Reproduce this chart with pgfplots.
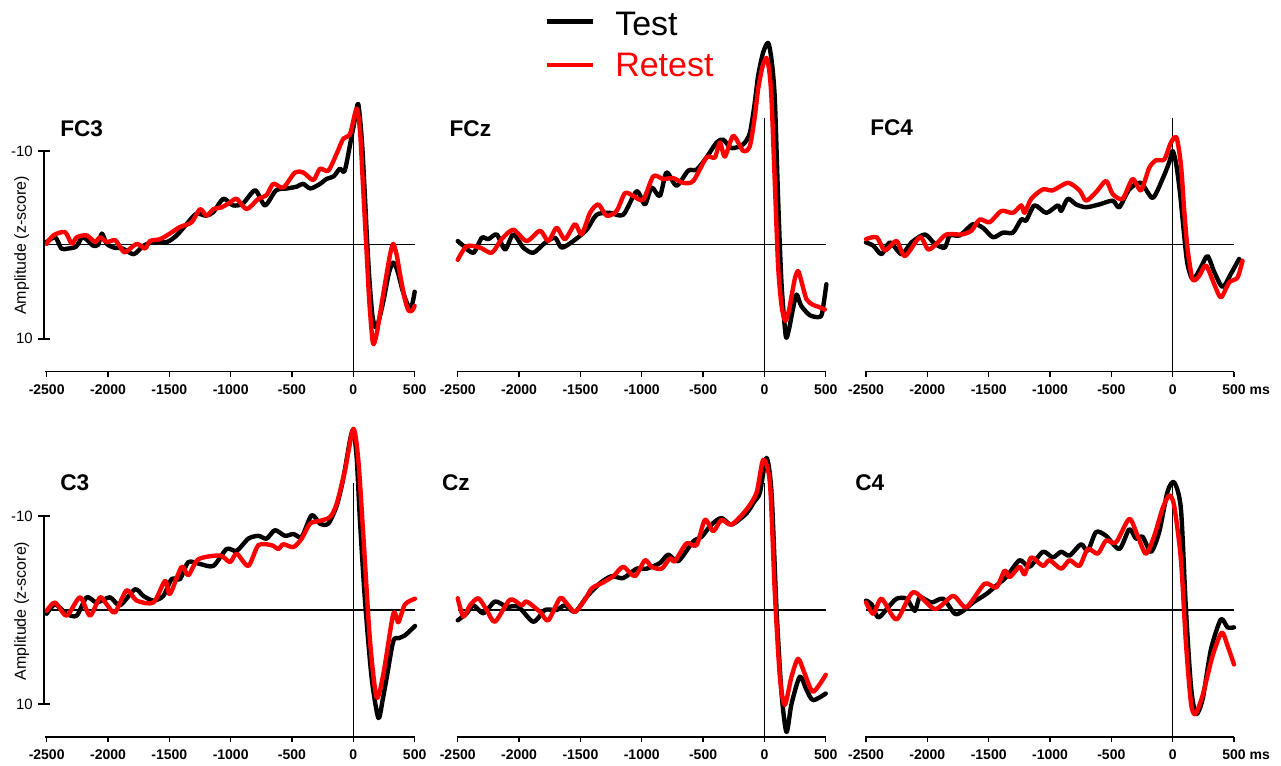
\documentclass[border=0pt]{standalone}
\usepackage{fontspec}
\setmainfont{Liberation Sans}
\usepackage{pgfplots}
\pgfplotsset{compat=1.18}
\definecolor{rtred}{RGB}{255,0,0}
\pgfplotsset{
  erp/.style={
    width=276pt, height=190.1pt, scale only axis,
    xmin=-2500, xmax=500, ymin=-13.5, ymax=13.5, y dir=reverse,
    clip=false, axis line style={draw=none},
    xtick={-2500,-2000,-1500,-1000,-500,0,500},
    xticklabels={-2500,-2000,-1500,-1000,-500,0,500},
    xtick pos=bottom, tick align=outside,
    major tick length=4pt,
    every tick/.style={black, line width=1.1pt},
    x tick label style={font=\fontsize{10.5}{12}\selectfont\bfseries, yshift=-2.5pt},
    ytick=\empty,
    anchor=center,
  },
  leftcol/.style={ytick={-10,10}, yticklabels={-10,10}, ytick pos=left,
    ytick style={draw=none},
    y tick label style={font=\fontsize{11.2}{13}\selectfont, xshift=-3pt}},
  test/.style={black, line width=3.3pt, smooth, tension=0.45, line join=round, line cap=round},
  retest/.style={rtred, line width=3.3pt, smooth, tension=0.45, line join=round, line cap=round},
  zline/.style={black, line width=0.9pt},
  axl/.style={black, line width=1.4pt},
}
\begin{document}
\begin{tikzpicture}
\useasboundingbox (0,0) rectangle (960.75pt,574.5pt);
% ---------------- FC3
\begin{axis}[erp, leftcol, at={(173.0pt,390.9pt)}]
\addplot[zline] coordinates {(-2500,0) (500,0)};
\addplot[zline] coordinates {(0,-13.5) (0,13.5)};
\addplot[axl] coordinates {(-2510,13.5) (500,13.5)};
\addplot[test] coordinates {(-2500,-0.3) (-2430,-0.8) (-2380,0.4) (-2330,0.4) (-2260,0.2) (-2210,-0.8) (-2160,-0.4) (-2120,0.1) (-2080,0.0) (-2050,-1.2) (-2010,-0.1) (-1950,0.3) (-1880,0.4) (-1790,1.0) (-1710,0.1) (-1630,-0.3) (-1520,-0.3) (-1440,-1.0) (-1360,-2.2) (-1280,-3.3) (-1200,-3.1) (-1140,-3.5) (-1060,-4.9) (-980,-4.2) (-900,-4.4) (-800,-5.8) (-720,-4.2) (-630,-5.8) (-540,-6.0) (-460,-6.2) (-410,-6.5) (-350,-6.0) (-270,-6.5) (-220,-7.0) (-160,-7.3) (-110,-8.1) (-70,-7.9) (-15,-11.5) (15,-13.5) (40,-15.0) (70,-11) (95,-5) (110,-1) (130,3.5) (155,7.5) (180,8.8) (205,8.2) (245,6.0) (290,3.0) (325,1.9) (360,2.8) (400,4.8) (450,6.6) (480,6.3) (500,5.0)};
\addplot[retest] coordinates {(-2500,-0.1) (-2446,-1.0) (-2350,-1.35) (-2296,-0.1) (-2255,-0.8) (-2174,-1.0) (-2106,-0.3) (-2065,-0.8) (-2011,-0.3) (-1943,-0.5) (-1902,0.2) (-1861,0.8) (-1766,-0.1) (-1698,0.4) (-1658,-0.4) (-1576,-0.6) (-1495,-1.2) (-1413,-1.9) (-1318,-2.4) (-1250,-3.8) (-1196,-3.1) (-1141,-3.8) (-1073,-4.0) (-1005,-4.5) (-951,-4.9) (-870,-3.8) (-774,-4.9) (-707,-5.3) (-652,-6.5) (-571,-6.1) (-476,-7.7) (-408,-7.7) (-326,-6.9) (-272,-8.1) (-204,-7.9) (-136,-9.7) (-82,-11.3) (-27,-11.8) (27,-14.5) (55,-12) (80,-6) (105,0) (130,6) (160,10.5) (190,9.5) (217,7.4) (260,4.0) (300,1.0) (326,-0.1) (355,1.2) (380,3.1) (420,5.8) (450,7.0) (480,7.0) (500,6.5)};
\end{axis}
% ---------------- FCz
\begin{axis}[erp, at={(481.3pt,390.9pt)}]
\addplot[zline] coordinates {(-2500,0) (500,0)};
\addplot[zline] coordinates {(0,-13.5) (0,13.5)};
\addplot[axl] coordinates {(-2510,13.5) (500,13.5)};
\addplot[test] coordinates {(-2500,-0.4) (-2454,0.1) (-2372,0.85) (-2304,-0.75) (-2250,-0.6) (-2182,-1.1) (-2114,0.5) (-2047,-1.1) (-1965,0.3) (-1884,0.85) (-1789,-0.2) (-1707,-0.75) (-1653,0.3) (-1558,-0.4) (-1449,-1.6) (-1368,-3.2) (-1259,-3.4) (-1151,-3.2) (-1042,-5.7) (-974,-4.3) (-920,-6.1) (-852,-5.2) (-798,-7.7) (-716,-6.3) (-621,-7.9) (-553,-8.0) (-472,-9.3) (-390,-10.9) (-336,-11.2) (-268,-10.3) (-173,-10.7) (-119,-11.9) (-80,-15.0) (-51,-18.0) (-10,-20.5) (31,-21.5) (60,-19.5) (85,-15.5) (112,-4.8) (139,4.0) (174,9.7) (200,9.0) (230,7.0) (262,5.3) (300,6.5) (370,7.5) (440,7.7) (470,7.3) (505,4.2)};
\addplot[retest] coordinates {(-2500,1.6) (-2427,0.15) (-2318,0.3) (-2223,0.85) (-2142,-0.6) (-2047,-1.6) (-1938,-0.4) (-1829,-1.5) (-1762,-0.4) (-1694,-1.8) (-1626,-0.6) (-1544,-2.2) (-1490,-1.1) (-1422,-3.4) (-1354,-4.3) (-1286,-3.1) (-1205,-3.6) (-1137,-5.5) (-1069,-5.2) (-988,-4.8) (-906,-7.3) (-825,-7.0) (-743,-7.1) (-662,-6.6) (-580,-6.8) (-472,-9.3) (-404,-9.3) (-363,-10.9) (-322,-9.4) (-254,-11.6) (-173,-10.0) (-119,-10.5) (-80,-13.5) (-51,-16.6) (-15,-19.0) (17,-19.9) (40,-18.5) (58,-15.5) (85,-6.6) (112,2.3) (140,6.5) (170,8.1) (200,7.0) (221,5.5) (250,3.5) (275,2.8) (300,3.8) (343,5.8) (397,6.4) (440,6.6) (492,6.9)};
\end{axis}
% ---------------- FC4
\begin{axis}[erp, at={(787.5pt,390.9pt)}, xticklabels={-2500,-2000,-1500,-1000,-500,0,500\rlap{ ms}}]
\addplot[zline] coordinates {(-2500,0) (500,0)};
\addplot[zline] coordinates {(0,-13.5) (0,13.5)};
\addplot[axl] coordinates {(-2510,13.5) (500,13.5)};
\addplot[test] coordinates {(-2500,-0.25) (-2440,0.1) (-2373,1.0) (-2305,-0.25) (-2210,1.0) (-2129,-0.25) (-2020,-1.1) (-1939,-0.1) (-1858,0.3) (-1817,-1.0) (-1736,-1.0) (-1627,-2.2) (-1546,-1.8) (-1465,-0.8) (-1383,-1.3) (-1302,-1.3) (-1234,-2.7) (-1194,-2.6) (-1126,-4.2) (-1031,-3.4) (-936,-4.2) (-909,-3.6) (-855,-4.9) (-787,-4.3) (-706,-4.0) (-598,-4.3) (-489,-4.7) (-435,-4.0) (-354,-5.9) (-259,-6.6) (-164,-5.0) (-83,-7.0) (-28,-8.8) (0,-10.0) (30,-8.5) (60,-5.5) (90,-1.5) (120,2.0) (165,3.7) (230,2.4) (284,1.2) (339,2.9) (407,4.5) (474,3.1) (542,1.5)};
\addplot[retest] coordinates {(-2500,-0.6) (-2413,-0.8) (-2346,0.6) (-2251,-0.4) (-2183,1.2) (-2061,-0.8) (-1993,0.5) (-1926,-0.1) (-1844,-1.1) (-1722,-1.1) (-1641,-1.5) (-1573,-2.7) (-1492,-2.4) (-1397,-3.6) (-1302,-3.4) (-1234,-4.2) (-1207,-3.4) (-1153,-4.9) (-1058,-5.9) (-977,-5.8) (-855,-6.6) (-760,-5.8) (-706,-4.7) (-625,-5.6) (-543,-6.8) (-489,-5.4) (-408,-4.9) (-327,-7.0) (-259,-5.8) (-191,-8.2) (-136,-9.0) (-68,-9.1) (-14,-10.9) (32,-11.4) (68,-8.4) (95,-3.5) (122,0.5) (163,3.7) (217,3.3) (271,2.2) (339,4.2) (393,5.6) (461,4.0) (528,3.5) (569,1.7)};
\end{axis}
% ---------------- C3
\begin{axis}[erp, leftcol, at={(173.0pt,117.0pt)}]
\addplot[zline] coordinates {(-2500,0) (500,0)};
\addplot[zline] coordinates {(0,-13.5) (0,13.5)};
\addplot[axl] coordinates {(-2510,13.5) (500,13.5)};
\addplot[test] coordinates {(-2500,0.4) (-2432,-0.6) (-2337,0.4) (-2255,0.6) (-2174,-1.35) (-2092,-0.8) (-1984,-1.35) (-1902,-0.5) (-1780,-2.2) (-1712,-1.5) (-1630,-1.0) (-1549,-1.5) (-1481,-3.3) (-1413,-3.3) (-1345,-5.1) (-1250,-4.9) (-1141,-4.7) (-1033,-6.5) (-951,-6.3) (-856,-7.6) (-774,-7.9) (-707,-7.6) (-639,-8.5) (-557,-7.9) (-489,-8.1) (-421,-7.8) (-340,-10.1) (-272,-9.2) (-204,-9.2) (-136,-11.1) (-82,-14.0) (-27,-18.1) (0,-19.1) (27,-16.3) (54,-9.5) (95,-1.0) (149,7.2) (204,11.5) (240,9.5) (272,7.2) (326,3.3) (370,3.0) (421,2.7) (503,1.7)};
\addplot[retest] coordinates {(-2500,0.1) (-2432,-0.8) (-2337,0.6) (-2228,-1.35) (-2147,0.6) (-2065,-1.35) (-2011,-0.6) (-1943,0.25) (-1848,-2.1) (-1766,-1.0) (-1630,-0.8) (-1535,-3.1) (-1495,-1.7) (-1400,-4.6) (-1345,-3.7) (-1264,-5.4) (-1087,-5.8) (-1005,-5.1) (-951,-6.0) (-856,-4.7) (-774,-6.9) (-666,-6.9) (-612,-6.5) (-571,-7.0) (-489,-6.7) (-421,-7.6) (-353,-9.2) (-272,-9.5) (-190,-9.9) (-136,-11.3) (-68,-14.9) (0,-19.3) (41,-15.9) (82,-7.8) (136,3.3) (190,9.3) (245,6.8) (326,0.4) (367,1.3) (421,-0.6) (503,-1.2)};
\end{axis}
% ---------------- Cz
\begin{axis}[erp, at={(481.3pt,117.0pt)}]
\addplot[zline] coordinates {(-2500,0) (500,0)};
\addplot[zline] coordinates {(0,-13.5) (0,13.5)};
\addplot[axl] coordinates {(-2510,13.5) (500,13.5)};
\addplot[test] coordinates {(-2500,1.1) (-2427,0.35) (-2372,-0.5) (-2291,0.35) (-2196,-0.9) (-2101,-0.35) (-2006,-0.35) (-1884,1.25) (-1789,0) (-1694,0) (-1626,-0.5) (-1544,0.2) (-1449,-1.4) (-1341,-2.85) (-1246,-3.6) (-1151,-3.4) (-1042,-4.4) (-961,-4.4) (-852,-5.0) (-784,-5.9) (-703,-5.2) (-580,-7.3) (-512,-7.8) (-431,-9.1) (-350,-9.8) (-268,-9.1) (-146,-10.3) (-80,-11.6) (-37,-12.5) (17,-16.2) (58,-12.5) (99,0) (140,8.9) (180,13.0) (221,10.0) (289,7.1) (343,8.5) (397,9.6) (500,8.9)};
\addplot[retest] coordinates {(-2500,-1.25) (-2454,0.7) (-2400,-0.5) (-2332,-1.25) (-2264,0) (-2196,1.25) (-2074,-1.1) (-1979,-0.5) (-1938,-0.9) (-1829,0.2) (-1762,1.1) (-1667,-1.25) (-1612,-0.7) (-1544,0.2) (-1463,-1.1) (-1408,-2.3) (-1327,-2.85) (-1232,-3.6) (-1151,-4.6) (-1056,-3.6) (-974,-5.3) (-920,-4.6) (-838,-4.4) (-770,-5.5) (-730,-5.2) (-635,-7.1) (-553,-6.9) (-485,-9.6) (-417,-8.4) (-350,-9.6) (-268,-9.1) (-146,-10.7) (-64,-12.5) (-10,-16.0) (45,-13.5) (85,-1.8) (126,7.1) (166,10.1) (221,7.1) (275,5.2) (329,6.8) (397,8.7) (500,6.9)};
\end{axis}
% ---------------- C4
\begin{axis}[erp, at={(787.5pt,117.0pt)}, xticklabels={-2500,-2000,-1500,-1000,-500,0,500\rlap{ ms}}]
\addplot[zline] coordinates {(-2500,0) (500,0)};
\addplot[zline] coordinates {(0,-13.5) (0,13.5)};
\addplot[axl] coordinates {(-2510,13.5) (500,13.5)};
\addplot[test] coordinates {(-2500,-1.0) (-2454,-0.6) (-2400,0.8) (-2318,-0.3) (-2251,-1.2) (-2169,-1.2) (-2102,0.1) (-2061,-1.35) (-1966,-0.8) (-1871,-1.2) (-1776,0.4) (-1709,0.1) (-1627,-0.8) (-1519,-1.7) (-1438,-2.6) (-1357,-3.5) (-1248,-5.3) (-1167,-4.6) (-1058,-6.2) (-977,-5.6) (-909,-6.2) (-841,-5.8) (-747,-7.0) (-692,-6.3) (-625,-8.3) (-543,-7.9) (-435,-6.5) (-354,-8.6) (-299,-7.6) (-245,-7.8) (-177,-6.2) (-110,-8.3) (-42,-12.6) (12,-13.6) (67,-10.8) (108,-0.1) (149,8.1) (189,11.1) (244,9.5) (312,4.2) (393,1.0) (447,1.85) (500,1.85)};
\addplot[retest] coordinates {(-2500,-0.8) (-2440,0.4) (-2373,-1.2) (-2251,1.0) (-2115,-1.9) (-1939,-0.1) (-1790,-1.5) (-1682,-0.3) (-1533,-2.8) (-1438,-2.4) (-1370,-4.2) (-1329,-3.5) (-1248,-4.6) (-1207,-3.8) (-1153,-5.6) (-1058,-4.7) (-1004,-5.3) (-909,-4.4) (-841,-5.3) (-760,-4.7) (-692,-6.5) (-611,-6.0) (-543,-7.4) (-462,-7.2) (-354,-9.7) (-286,-7.9) (-218,-6.0) (-150,-7.9) (-83,-10.8) (-28,-12.2) (12,-11.1) (67,-5.4) (108,3.5) (149,9.9) (184,11.1) (244,9.1) (325,4.9) (400,2.4) (447,3.8) (500,5.8)};
\end{axis}
% ---------------- y axis segments of the left column
\draw[black, line width=1.5pt] (32.7pt,461.3pt) -- (32.7pt,320.5pt);
\draw[black, line width=1.5pt] (28.5pt,461.3pt) -- (37.5pt,461.3pt);
\draw[black, line width=1.5pt] (28.5pt,320.5pt) -- (37.5pt,320.5pt);
\draw[black, line width=1.5pt] (32.7pt,187.4pt) -- (32.7pt,46.6pt);
\draw[black, line width=1.5pt] (28.5pt,187.4pt) -- (37.5pt,187.4pt);
\draw[black, line width=1.5pt] (28.5pt,46.6pt) -- (37.5pt,46.6pt);
% ---------------- titles, labels, legend
\begin{scope}[every node/.style={inner sep=0pt}]
\node[anchor=west, font=\fontsize{17}{20}\selectfont\bfseries] at (45pt,478.3pt) {FC3};
\node[anchor=west, font=\fontsize{17}{20}\selectfont\bfseries] at (337pt,477.8pt) {FCz};
\node[anchor=west, font=\fontsize{17}{20}\selectfont\bfseries] at (652.5pt,478.5pt) {FC4};
\node[anchor=west, font=\fontsize{17}{20}\selectfont\bfseries] at (45pt,212.6pt) {C3};
\node[anchor=west, font=\fontsize{17}{20}\selectfont\bfseries] at (331.3pt,212.6pt) {Cz};
\node[anchor=west, font=\fontsize{17}{20}\selectfont\bfseries] at (641.3pt,212.6pt) {C4};
\node[rotate=90, font=\fontsize{12}{14}\selectfont] at (16.3pt,390.5pt) {Amplitude (z-score)};
\node[rotate=90, font=\fontsize{12}{14}\selectfont] at (16.3pt,116.2pt) {Amplitude (z-score)};
\draw[black, line width=3.6pt] (410pt,558.2pt) -- (445pt,558.2pt);
\draw[rtred, line width=3.6pt] (410pt,525.75pt) -- (445pt,525.75pt);
\node[anchor=base west, font=\fontsize{25.5}{30}\selectfont] at (461.25pt,547.5pt) {Test};
\node[anchor=base west, font=\fontsize{25.5}{30}\selectfont, text=rtred] at (461.25pt,517pt) {Retest};
\end{scope}
\end{tikzpicture}
\end{document}
